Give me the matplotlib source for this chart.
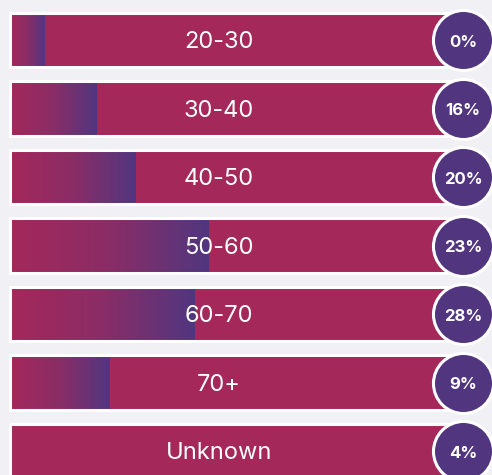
import numpy as np
import matplotlib.pyplot as plt
from matplotlib.colors import LinearSegmentedColormap
from matplotlib.patches import Rectangle

# data
groups = ["20-30", "30-40", "40-50", "50-60", "60-70", "70+", "Unknown"]
percents = ["0%", "16%", "20%", "23%", "28%", "9%", "4%"]
# length of the gradient part of each bar, in % of the bar track
fill = [7.7, 19.0, 27.8, 43.9, 40.8, 21.9, 0.0]

crimson = "#a4285a"
purple = "#51367f"
bg = "#f0f0f5"

cmap = LinearSegmentedColormap.from_list("grad", [crimson, "#8a2d66", purple])

fig = plt.figure(figsize=(4.92, 4.75), dpi=100)
fig.patch.set_facecolor(bg)
ax = fig.add_axes([0, 0, 1, 1])
ax.set_facecolor(bg)
ax.set_xlim(-2.21, 106.4)
ax.set_ylim(6.35, -0.584)
ax.axis("off")

bar_h = 0.80
grad = np.linspace(0, 1, 256).reshape(1, -1)

for i, (name, pct, f) in enumerate(zip(groups, percents, fill)):
    # base bar
    ax.add_patch(Rectangle((0, i - bar_h / 2), 100, bar_h,
                           facecolor=crimson, edgecolor="none", zorder=1))
    # gradient part
    if f > 0:
        ax.imshow(grad, cmap=cmap, aspect="auto", zorder=2,
                  extent=(0, f, i + bar_h / 2, i - bar_h / 2),
                  interpolation="bilinear")
    # white border
    ax.add_patch(Rectangle((0, i - bar_h / 2), 100, bar_h,
                           facecolor="none", edgecolor="white",
                           linewidth=2.2, zorder=3))
    ax.text(46.1, i + 0.03, name, color="white", fontsize=17,
            family="Inter", ha="center", va="center", zorder=4)

# percentage circles
ys = np.arange(len(groups))
ax.scatter(np.full(len(groups), 100), ys, s=1870, c=purple,
           edgecolors="white", linewidths=2.2, zorder=5)
for i, pct in enumerate(percents):
    ax.text(100, i + 0.03, pct, color="white", fontsize=12,
            fontweight="bold", family="Inter",
            ha="center", va="center", zorder=6)

fig.savefig("out.png", dpi=100, facecolor=bg)
